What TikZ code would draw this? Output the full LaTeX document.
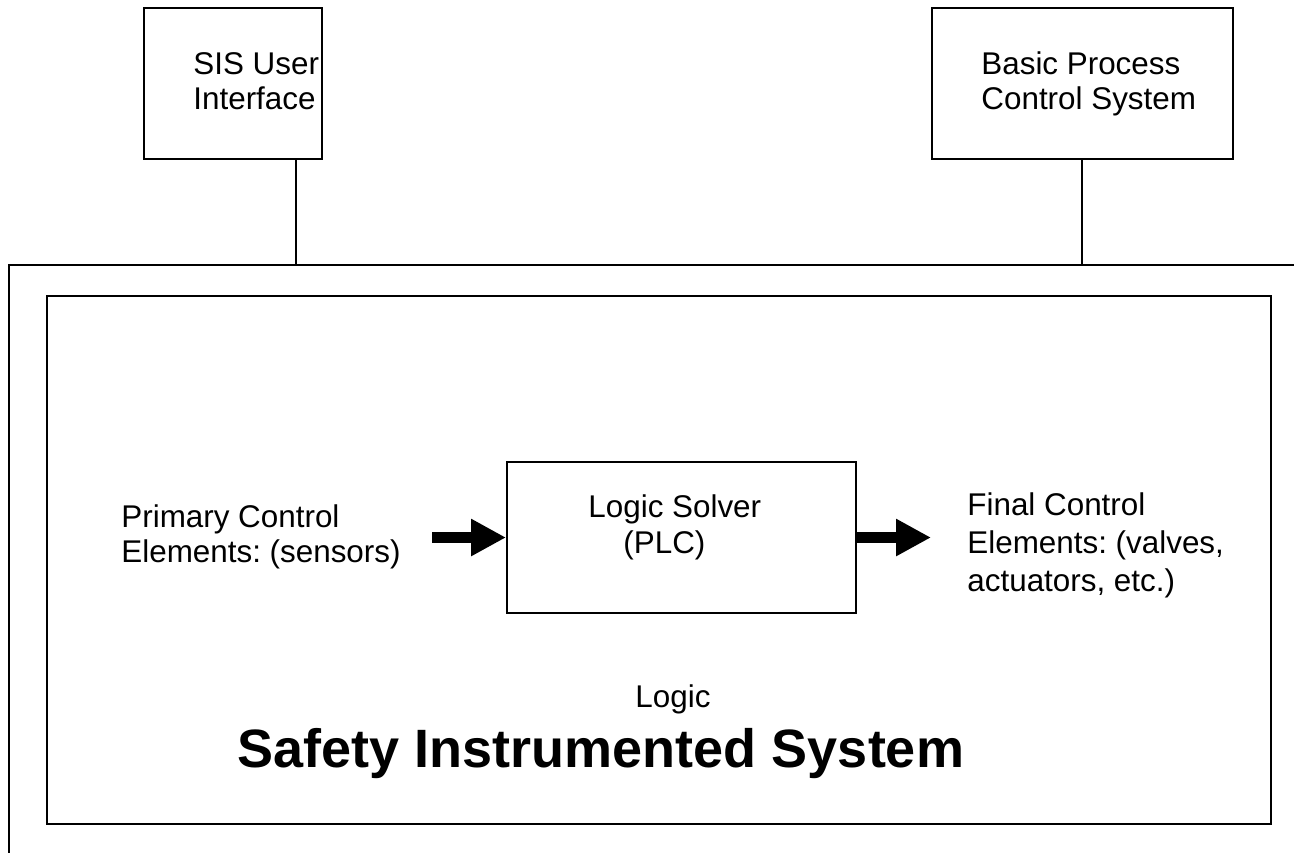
\documentclass[tikz,border=0pt]{standalone}
\usepackage{fontspec}
\setmainfont{Liberation Sans}
\frenchspacing
\usetikzlibrary{fit,arrows.meta}
\tikzset{
  box/.style={draw, line width=1pt, inner sep=0pt},
  lbl/.style={anchor=base west, inner sep=0pt, font=\fontsize{15.7pt}{18pt}\selectfont},
  clbl/.style={anchor=base, inner sep=0pt, font=\fontsize{15.7pt}{18pt}\selectfont},
  title/.style={anchor=base, inner sep=0pt, font=\fontsize{27pt}{32pt}\selectfont\bfseries},
  wire/.style={line width=1pt},
  blockarrow/.style={line width=5.5pt, -{Triangle[length=17.5pt, width=17.5pt]}}
}
\begin{document}
\begin{tikzpicture}[x=0.5pt, y=-0.5pt]
  \useasboundingbox (0,0) rectangle (1294,853);

  % outer system frame (open on the right and bottom)
  \coordinate (frameTR) at (1294,265);
  \coordinate (frameTL) at (9,265);
  \coordinate (frameBL) at (9,853);
  \draw[wire] (frameTR) -- (frameTL) -- (frameBL);

  % interface boxes above the frame
  \node[box, fit={(144,8) (322,159)}] (sis) {};
  \node[lbl] (sisA) at (193,74) {SIS User};
  \node[lbl] (sisB) at (193,109) {Interface};

  \node[box, fit={(932,8) (1233,159)}] (bpcs) {};
  \node[lbl] (bpcsA) at (981,74) {Basic Process};
  \node[lbl] (bpcsB) at (981,109) {Control System};

  \coordinate (tapA) at (296,265);
  \coordinate (tapB) at (1082,265);
  \draw[wire] (tapA |- sis.south) -- (tapA);
  \draw[wire] (tapB |- bpcs.south) -- (tapB);

  % inner SIS boundary
  \node[box, fit={(47,296) (1271,824)}] (sisys) {};

  % logic solver
  \node[box, fit={(507,462) (856,613)}] (solver) {};
  \node[lbl] (solverA) at (588,517) {Logic Solver};
  \node[lbl] (solverB) at (623,553) {(PLC)};

  % sensors and final elements
  \node[lbl] (sensA) at (121,527) {Primary Control};
  \node[lbl] (sensB) at (121,562) {Elements: (sensors)};

  \node[lbl] (finA) at (967,515) {Final Control};
  \node[lbl] (finB) at (967,553) {Elements: (valves,};
  \node[lbl] (finC) at (967,591) {actuators, etc.)};

  \coordinate (inTail) at (432,537.5);
  \coordinate (outHead) at (931,537.5);
  \draw[blockarrow] (inTail) -- (inTail -| solver.west);
  \draw[blockarrow] (outHead -| solver.east) -- (outHead);

  \node[clbl] (logic) at (673,707) {Logic};
  \node[title] (ttl) at (601,767) {Safety Instrumented System};
\end{tikzpicture}
\end{document}
